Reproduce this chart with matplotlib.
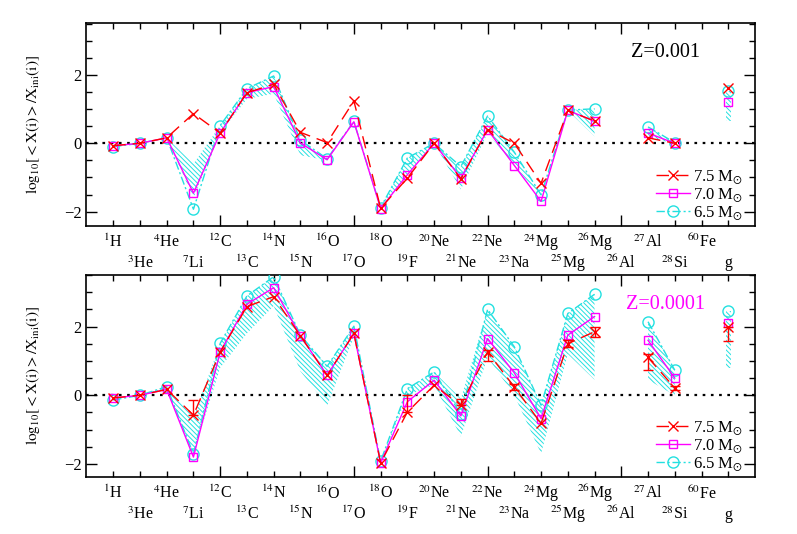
import numpy as np
import matplotlib
matplotlib.use("Agg")
import matplotlib.pyplot as plt
from matplotlib.transforms import blended_transform_factory

plt.rcParams['font.family'] = ['Liberation Serif', 'DejaVu Serif']
plt.rcParams['mathtext.fontset'] = 'stix'
plt.rcParams['hatch.linewidth'] = 0.7

nan = np.nan
species = [r'$^{1}$H', r'$^{3}$He', r'$^{4}$He', r'$^{7}$Li', r'$^{12}$C', r'$^{13}$C',
           r'$^{14}$N', r'$^{15}$N', r'$^{16}$O', r'$^{17}$O', r'$^{18}$O', r'$^{19}$F',
           r'$^{20}$Ne', r'$^{21}$Ne', r'$^{22}$Ne', r'$^{23}$Na', r'$^{24}$Mg', r'$^{25}$Mg',
           r'$^{26}$Mg', r'$^{26}$Al', r'$^{27}$Al', r'$^{28}$Si', r'$^{60}$Fe', 'g']

# ---- Z = 0.001 (top panel) ----
top_75 = [-0.07, 0.0, 0.16, 0.87, 0.30, 1.48, 1.73, 0.32, 0.02, 1.24, -1.90, -1.02,
          0.0, -1.04, 0.40, 0.0, -1.17, 0.96, 0.65, nan, 0.16, 0.0, nan, 1.63]
top_70 = [-0.07, 0.0, 0.16, -1.46, 0.30, 1.48, 1.66, 0.01, -0.48, 0.63, -1.91, -0.92,
          0.0, -1.02, 0.40, -0.65, -1.70, 0.96, 0.65, nan, 0.30, 0.0, nan, 1.20]
top_65 = [-0.10, 0.0, 0.16, -1.93, 0.52, 1.60, 1.97, 0.09, -0.45, 0.64, -1.88, -0.43,
          0.0, -0.68, 0.80, -0.26, -1.51, 0.97, 1.01, nan, 0.48, 0.02, nan, 1.53]
top_band_lo = [-0.07, 0.0, 0.16, -1.60, 0.30, 1.30, 1.45, -0.35, -0.50, 0.62, -1.90, -0.90,
               0.0, -1.35, 0.30, -0.65, -1.60, 0.96, 0.20, nan, 0.16, 0.0, nan, 0.65]
top_band_hi = [-0.07, 0.0, 0.16, -0.60, 0.52, 1.60, 1.97, 0.10, -0.45, 0.65, -1.88, -0.43,
               0.0, -0.68, 0.80, -0.26, -1.50, 0.97, 1.01, nan, 0.48, 0.02, nan, 1.53]

# ---- Z = 0.0001 (bottom panel) ----
bot_75 = [-0.08, 0.0, 0.17, -0.58, 1.26, 2.58, 2.87, 1.73, 0.58, 1.80, -1.97, -0.49,
          0.29, -0.29, 1.26, 0.24, -0.82, 1.50, 1.85, nan, 1.10, 0.21, nan, 1.99]
bot_70 = [-0.08, 0.0, 0.17, -1.80, 1.26, 2.65, 3.13, 1.73, 0.58, 1.80, -1.97, -0.19,
          0.44, -0.60, 1.65, 0.65, -0.68, 1.75, 2.29, nan, 1.60, 0.50, nan, 2.10]
bot_65 = [-0.14, 0.0, 0.25, -1.71, 1.51, 2.89, 3.45, 1.75, 0.84, 2.01, -1.92, 0.19,
          0.68, -0.55, 2.50, 1.41, -0.29, 2.38, 2.94, nan, 2.14, 0.73, nan, 2.45]
bot_err_lo = [nan, nan, nan, 0.0, nan, nan, nan, nan, nan, nan, nan, 0.0,
              nan, 0.0, 0.25, 0.08, nan, 0.10, 0.15, nan, 0.37, 0.07, nan, 0.42]
bot_err_hi = [nan, nan, nan, 0.45, nan, nan, nan, nan, nan, nan, nan, 0.50,
              nan, 0.19, 0.05, 0.08, nan, 0.10, 0.15, nan, 0.10, 0.07, nan, 0.0]
bot_band_lo = [-0.08, 0.0, 0.15, -1.70, 0.80, 1.80, 2.60, 0.70, -0.30, 1.70, -1.97, 0.0,
               0.30, -1.20, 1.10, 0.0, -1.70, 1.20, 0.45, nan, 0.45, 0.0, nan, 0.80]
bot_band_hi = [-0.08, 0.0, 0.25, -0.65, 1.51, 2.89, 3.45, 1.75, 0.84, 2.01, -1.92, 0.19,
               0.68, -0.10, 2.50, 1.41, -0.29, 2.38, 2.94, nan, 2.14, 0.73, nan, 2.45]

masses = [r'7.5 M$_{\odot}$', r'7.0 M$_{\odot}$', r'6.5 M$_{\odot}$']

x = np.arange(1, len(species) + 1)

RED = '#ff0000'
MAG = '#ff00ff'
CYA = '#22e0e0'
HATCH = '\\' * 7

fig = plt.figure(figsize=(7.97, 5.34), dpi=100)
ax1 = fig.add_axes([0.1085, 0.5768, 0.8388, 0.3801])
ax2 = fig.add_axes([0.1085, 0.1067, 0.8388, 0.3783])


def draw(ax, v75, v70, v65, blo, bhi, ylim, ztext, zcolor, elo=None, ehi=None):
    blo = np.array(blo, float)
    bhi = np.array(bhi, float)
    # hatched band
    ax.fill_between(x, blo, bhi, facecolor='none', edgecolor=CYA, hatch=HATCH,
                    linewidth=0, zorder=1)
    # isolated point band (g)
    isolated = [i for i in range(len(x))
                if not np.isnan(blo[i])
                and (i == 0 or np.isnan(blo[i - 1]))
                and (i == len(x) - 1 or np.isnan(blo[i + 1]))]
    for i in isolated:
        ax.bar(x[i], bhi[i] - blo[i], bottom=blo[i], width=0.2, facecolor='none',
               edgecolor=CYA, hatch=HATCH, linewidth=0, zorder=1)
    ax.axhline(0, color='k', ls=(0, (1.2, 2.5)), lw=1.6, zorder=2)
    l1, = ax.plot(x, v75, color=RED, lw=1.0, dashes=(9, 5), marker='x', ms=7,
                  mew=1.0, zorder=5, label=masses[0])
    l2, = ax.plot(x, v70, color=MAG, lw=1.0, ls='-', marker='s', ms=5.5, mfc='none',
                  mew=1.0, zorder=4, label=masses[1])
    l3, = ax.plot(x, v65, color=CYA, lw=1.0, dashes=(6, 2, 1.5, 2), marker='o', ms=8,
                  mfc='none', mew=1.0, zorder=3, label=masses[2])
    if elo is not None:
        elo = np.array(elo, float)
        ehi = np.array(ehi, float)
        m = ~np.isnan(elo)
        ax.errorbar(x[m], np.array(v75, float)[m], yerr=[elo[m], ehi[m]], fmt='none',
                    ecolor=RED, elinewidth=1.0, capsize=3.5, capthick=1.0, zorder=6)
    ax.set_xlim(0, 25)
    ax.set_ylim(*ylim)
    ax.set_xticks([5, 10, 15, 20])
    ax.set_xticks(np.arange(1, 25), minor=True)
    ax.set_yticks([-2, 0, 2])
    ax.set_yticks(np.arange(-2, 3.6, 0.5), minor=True)
    ax.tick_params(which='both', direction='in', top=True, right=True, width=1.0)
    ax.tick_params(which='major', length=8, labelsize=12)
    ax.tick_params(which='minor', length=4.5)
    ax.tick_params(axis='x', which='both', labelbottom=False)
    for s in ax.spines.values():
        s.set_linewidth(1.2)
    ax.set_ylabel(r'$\mathrm{log_{10}[<X(i)>/X_{ini}(i)]}$', fontsize=11)
    ax.yaxis.set_label_coords(-0.066, 0.5)
    trans = blended_transform_factory(ax.transData, ax.transAxes)
    for i, lab in enumerate(species):
        off = -12 if i % 2 == 0 else -27
        ax.annotate(lab, xy=(x[i], 0), xycoords=trans, xytext=(0, off),
                    textcoords='offset points', ha='center', va='center', fontsize=11.5)
    ax.text(0.866, 0.855, ztext, transform=ax.transAxes, ha='center', va='center',
            fontsize=14.5, color=zcolor)
    leg = ax.legend(handles=[l1, l2, l3], loc='lower right', frameon=False,
                    fontsize=12, handlelength=2.0, handletextpad=0.2,
                    labelspacing=0.0, borderaxespad=0.1,
                    bbox_to_anchor=(0.995, -0.02))
    return leg


draw(ax1, top_75, top_70, top_65, top_band_lo, top_band_hi, (-2.42, 3.52),
     'Z=0.001', 'black')
draw(ax2, bot_75, bot_70, bot_65, bot_band_lo, bot_band_hi, (-2.38, 3.50),
     'Z=0.0001', MAG, bot_err_lo, bot_err_hi)

fig.savefig('out.png', dpi=100)
